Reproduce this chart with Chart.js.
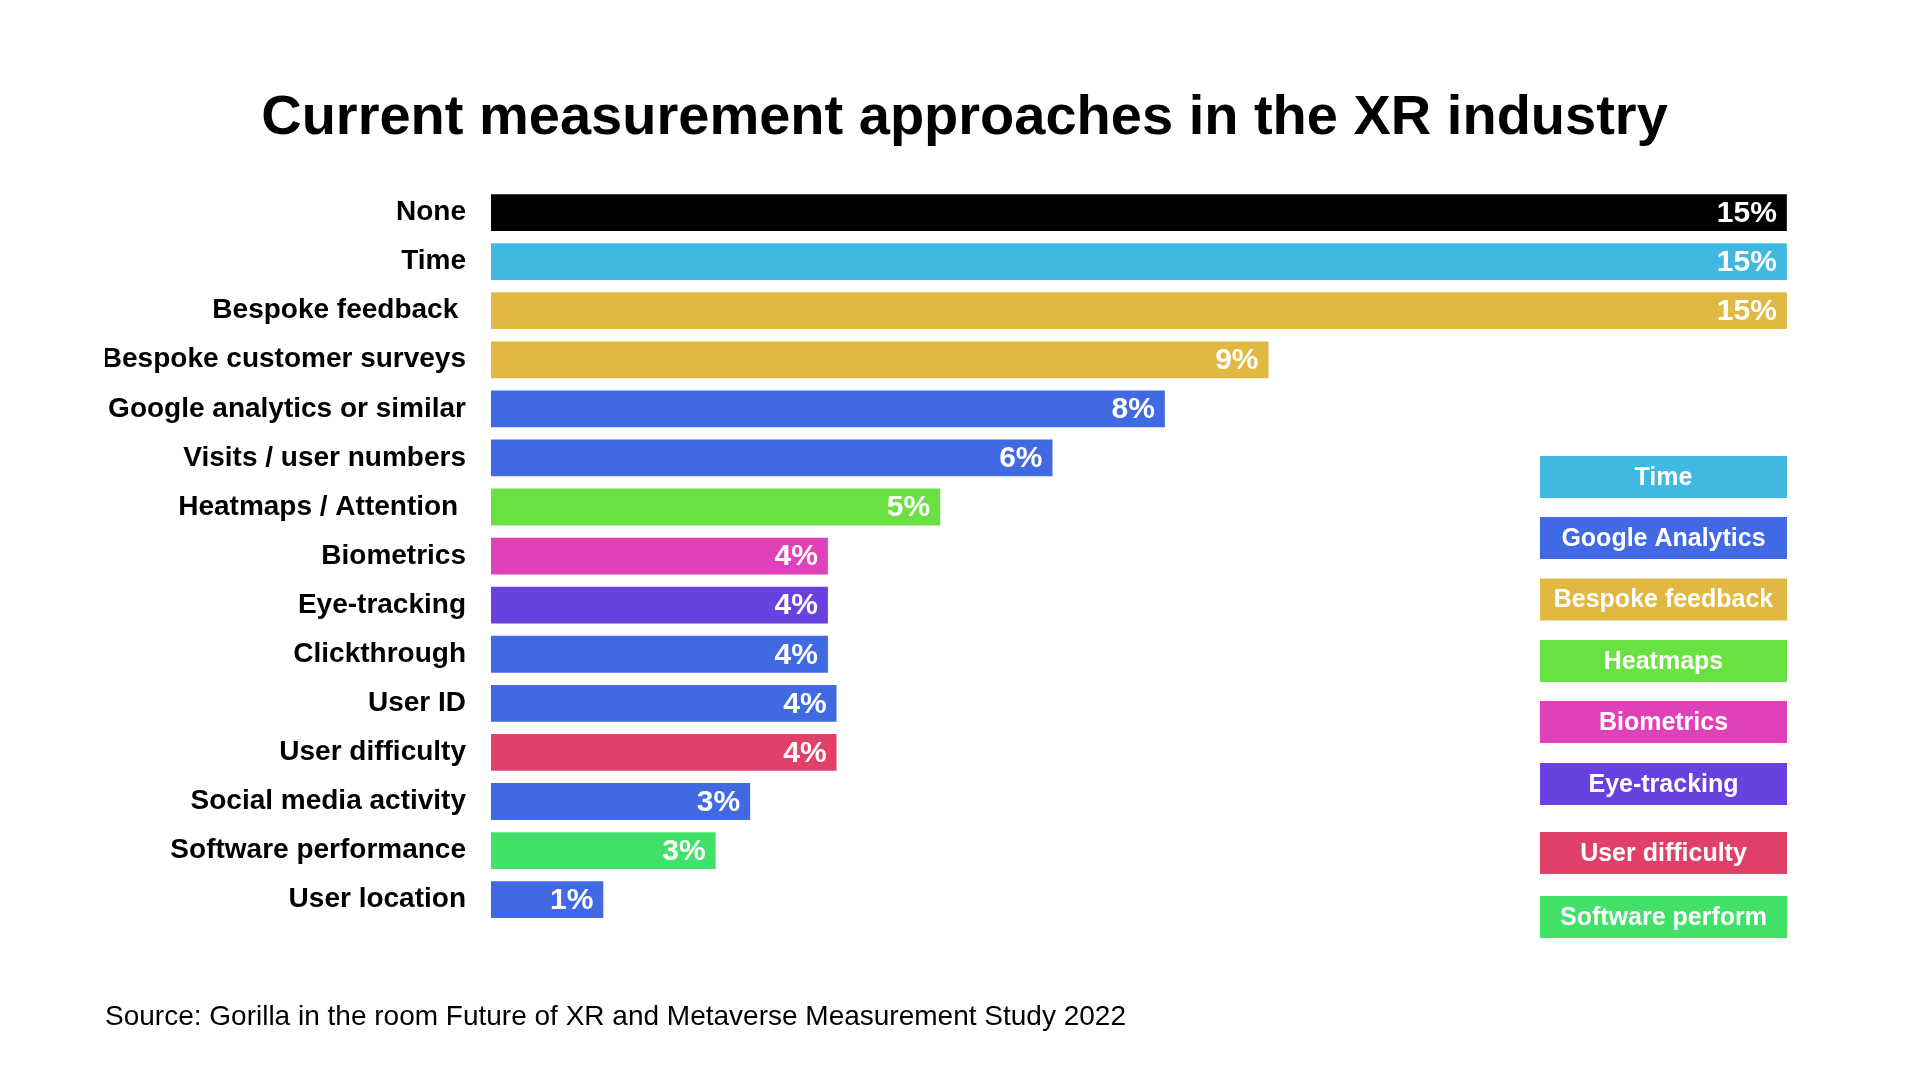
<!DOCTYPE html>
<html>
<head>
<meta charset="utf-8">
<script src="https://cdn.jsdelivr.net/npm/chart.js@4.4.1/dist/chart.umd.min.js"></script>
<style>
  html, body { margin: 0; padding: 0; background: #fff; }
  #wrap { width: 1920px; height: 1080px; }
</style>
</head>
<body>
<div id="wrap"><canvas id="myChart"></canvas></div>
<script>
// Chart data
const categories = ['None', 'Time', 'Bespoke feedback ', 'Bespoke customer surveys', 'Google analytics or similar',
  'Visits / user numbers', 'Heatmaps / Attention ', 'Biometrics', 'Eye-tracking', 'Clickthrough',
  'User ID', 'User difficulty', 'Social media activity', 'Software performance', 'User location'];
const values = [15, 15, 15, 9.0, 7.8, 6.5, 5.2, 3.9, 3.9, 3.9, 4.0, 4.0, 3.0, 2.6, 1.3];
const valueLabels = ['15%', '15%', '15%', '9%', '8%', '6%', '5%', '4%', '4%', '4%', '4%', '4%', '3%', '3%', '1%'];
const barColors = ['#000000', '#41B8E1', '#E1B841', '#E1B841', '#4169E1', '#4169E1', '#69E141', '#E141B8',
  '#6941E1', '#4169E1', '#4169E1', '#E14169', '#4169E1', '#41E169', '#4169E1'];
const legendNames = ['Time', 'Google Analytics', 'Bespoke feedback', 'Heatmaps', 'Biometrics',
  'Eye-tracking', 'User difficulty', 'Software perform'];
const legendColors = ['#41B8E1', '#4169E1', '#E1B841', '#69E141', '#E141B8', '#6941E1', '#E14169', '#41E169'];

const FONT = '"Liberation Sans", Arial, Helvetica, sans-serif';

// white % labels at the end of each bar
const valueLabelPlugin = {
  id: 'valueLabels',
  afterDatasetsDraw(chart) {
    const ctx = chart.ctx;
    const meta = chart.getDatasetMeta(0);
    ctx.save();
    ctx.fillStyle = '#fff';
    ctx.font = 'bold 30px ' + FONT;
    ctx.textAlign = 'right';
    ctx.textBaseline = 'middle';
    meta.data.forEach((bar, i) => {
      ctx.fillText(valueLabels[i], bar.x - 10, bar.y + 1);
    });
    ctx.restore();
  }
};

// coloured legend boxes on the right
const boxLegendPlugin = {
  id: 'boxLegend',
  afterDraw(chart, args, opts) {
    const ctx = chart.ctx;
    const right = chart.chartArea.right - 37;
    const left = right - opts.boxWidth;
    ctx.save();
    ctx.font = 'bold 25px ' + FONT;
    ctx.textAlign = 'center';
    ctx.textBaseline = 'middle';
    legendNames.forEach((name, i) => {
      const cy = opts.centers[i];
      ctx.fillStyle = legendColors[i];
      ctx.fillRect(left, cy - opts.boxHeight / 2, opts.boxWidth, opts.boxHeight);
      ctx.fillStyle = '#fff';
      ctx.fillText(name, (left + right) / 2, cy + 1);
    });
    ctx.restore();
  }
};

const ctx = document.getElementById('myChart').getContext('2d');

const myChart = new Chart(ctx, {
  type: 'bar',
  data: {
    labels: categories,
    datasets: [{
      data: values,
      backgroundColor: barColors,
      borderWidth: 0,
      barPercentage: 0.75,
      categoryPercentage: 1
    }]
  },
  options: {
    indexAxis: 'y',
    responsive: true,
    maintainAspectRatio: false,
    animation: false,
    devicePixelRatio: 1,
    layout: { padding: { left: 105, right: 96, top: 0, bottom: 0 } },
    scales: {
      x: { display: false, min: 0, max: 15.43 },
      y: {
        grid: { display: false, drawTicks: false },
        border: { display: false },
        ticks: { color: '#000', padding: 25, font: { family: FONT, size: 28, weight: 'bold' } },
        afterFit(scale) { scale.width = 386; }
      }
    },
    plugins: {
      legend: { display: false },
      tooltip: { enabled: false },
      title: {
        display: true,
        text: 'Current measurement approaches in the XR industry',
        color: '#000',
        font: { family: FONT, size: 56, weight: 'bold' },
        padding: { top: 84.5, bottom: 36.3 }
      },
      subtitle: {
        display: true,
        position: 'bottom',
        align: 'start',
        text: 'Source: Gorilla in the room Future of XR and Metaverse Measurement Study 2022',
        color: '#000',
        font: { family: FONT, size: 28, weight: 'normal' },
        padding: { top: 76, bottom: 46.2 }
      },
      boxLegend: {
        boxWidth: 247,
        boxHeight: 42,
        centers: [477, 538, 599.5, 661, 722, 784, 853, 917]
      }
    }
  },
  plugins: [valueLabelPlugin, boxLegendPlugin]
});
</script>
</body>
</html>
